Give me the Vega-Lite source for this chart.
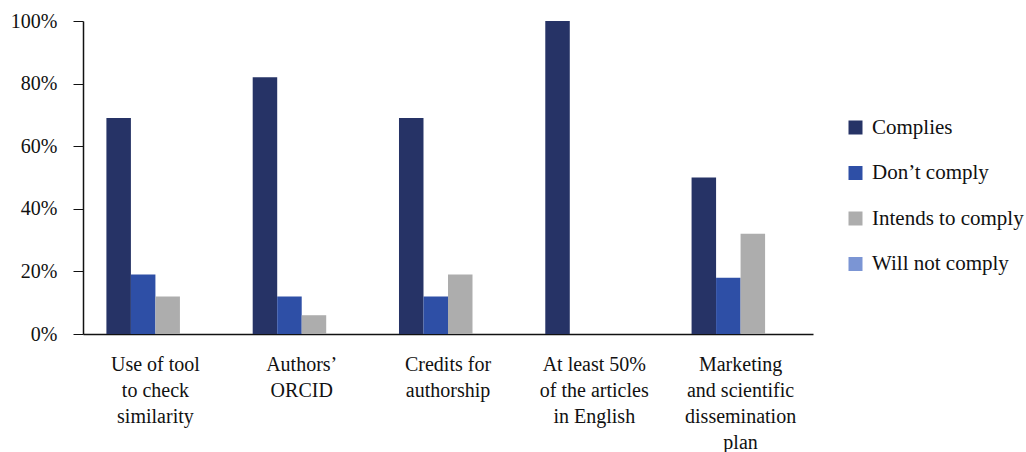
{
  "$schema": "https://vega.github.io/schema/vega-lite/v6.json",
  "autosize": {"type": "none"},
  "width": 730,
  "height": 313,
  "padding": {"left": 83, "top": 21, "right": 213, "bottom": 118},
  "background": "white",
  "config": {
    "view": {"stroke": null},
    "font": "Liberation Serif",
    "axis": {"labelFont": "Liberation Serif", "labelColor": "#111", "domainColor": "#111", "tickColor": "#111"},
    "legend": {"labelFont": "Liberation Serif"}
  },
  "data": {
    "values": [
      {"criterion": "Use of tool|to check|similarity", "status": "Complies", "share": 69},
      {"criterion": "Use of tool|to check|similarity", "status": "Don’t comply", "share": 19},
      {"criterion": "Use of tool|to check|similarity", "status": "Intends to comply", "share": 12},
      {"criterion": "Use of tool|to check|similarity", "status": "Will not comply", "share": 0},
      {"criterion": "Authors’|ORCID", "status": "Complies", "share": 82},
      {"criterion": "Authors’|ORCID", "status": "Don’t comply", "share": 12},
      {"criterion": "Authors’|ORCID", "status": "Intends to comply", "share": 6},
      {"criterion": "Authors’|ORCID", "status": "Will not comply", "share": 0},
      {"criterion": "Credits for|authorship", "status": "Complies", "share": 69},
      {"criterion": "Credits for|authorship", "status": "Don’t comply", "share": 12},
      {"criterion": "Credits for|authorship", "status": "Intends to comply", "share": 19},
      {"criterion": "Credits for|authorship", "status": "Will not comply", "share": 0},
      {"criterion": "At least 50%|of the articles|in English", "status": "Complies", "share": 100},
      {"criterion": "At least 50%|of the articles|in English", "status": "Don’t comply", "share": 0},
      {"criterion": "At least 50%|of the articles|in English", "status": "Intends to comply", "share": 0},
      {"criterion": "At least 50%|of the articles|in English", "status": "Will not comply", "share": 0},
      {"criterion": "Marketing|and scientific|dissemination|plan", "status": "Complies", "share": 50},
      {"criterion": "Marketing|and scientific|dissemination|plan", "status": "Don’t comply", "share": 18},
      {"criterion": "Marketing|and scientific|dissemination|plan", "status": "Intends to comply", "share": 32},
      {"criterion": "Marketing|and scientific|dissemination|plan", "status": "Will not comply", "share": 0}
    ]
  },
  "mark": {"type": "bar"},
  "encoding": {
    "x": {
      "field": "criterion",
      "type": "nominal",
      "sort": null,
      "scale": {"paddingInner": 0.33, "paddingOuter": 0.16},
      "axis": {
        "title": null,
        "labelAngle": 0,
        "ticks": false,
        "labelExpr": "split(datum.value, '|')",
        "labelFontSize": 20,
        "labelLineHeight": 26,
        "labelPadding": 20,
        "labelBaseline": "top",
        "domainWidth": 1.5
      }
    },
    "xOffset": {
      "field": "status",
      "type": "nominal",
      "sort": ["Complies", "Don’t comply", "Intends to comply", "Will not comply"]
    },
    "y": {
      "field": "share",
      "type": "quantitative",
      "scale": {"domain": [0, 100]},
      "axis": {
        "title": null,
        "values": [0, 20, 40, 60, 80, 100],
        "labelExpr": "datum.value + '%'",
        "labelFontSize": 20,
        "labelPadding": 16,
        "tickSize": 10,
        "grid": false,
        "domainWidth": 1.5
      }
    },
    "color": {
      "field": "status",
      "type": "nominal",
      "scale": {
        "domain": ["Complies", "Don’t comply", "Intends to comply", "Will not comply"],
        "range": ["#263366", "#2e4fa6", "#adadad", "#7b95d4"]
      },
      "legend": {
        "title": null,
        "orient": "none",
        "legendX": 762,
        "legendY": 96,
        "symbolType": "square",
        "symbolSize": 196,
        "symbolStrokeWidth": 0,
        "labelFontSize": 21,
        "labelColor": "#111",
        "labelOffset": 6,
        "rowPadding": 23.5
      }
    }
  }
}
